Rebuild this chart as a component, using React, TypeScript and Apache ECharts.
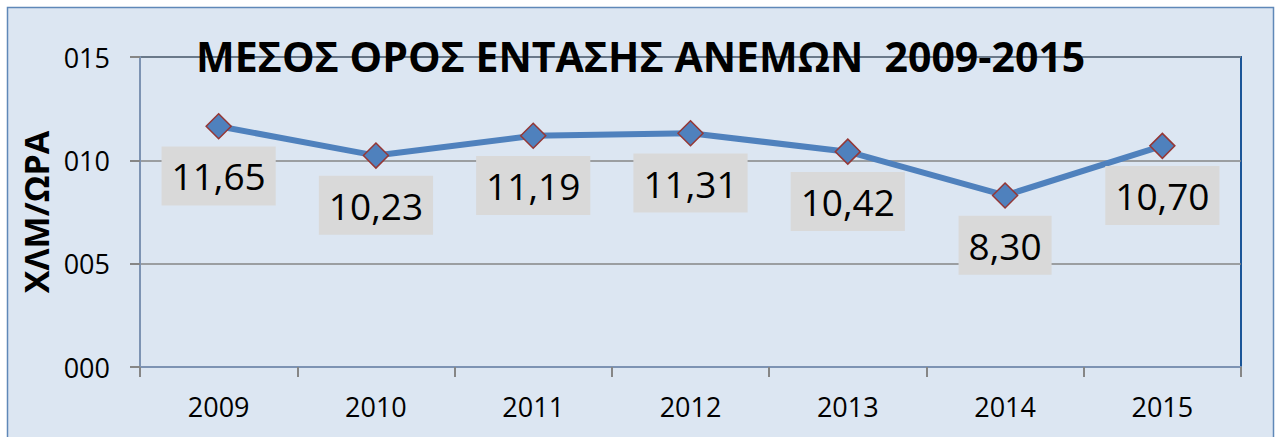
import React, { useEffect, useRef } from "react";
import * as echarts from "echarts";

const years = ["2009", "2010", "2011", "2012", "2013", "2014", "2015"];
const windSpeed = [11.65, 10.23, 11.19, 11.31, 10.42, 8.3, 10.7];
const yTicks = { min: 0, max: 15, interval: 5 };
const titleText = "ΜΕΣΟΣ ΟΡΟΣ ΕΝΤΑΣΗΣ ΑΝΕΜΩΝ  2009-2015";
const yName = "ΧΛΜ/ΩΡΑ";

const FONT = "'Open Sans', 'Noto Sans', sans-serif";

export default function App() {
  const ref = useRef<HTMLDivElement>(null);
  useEffect(() => {
    if (!ref.current) return;
    const chart = echarts.init(ref.current, null, { renderer: "svg" });
    chart.setOption({
      animation: false,
      backgroundColor: "#ffffff",
      graphic: [
        {
          type: "rect",
          z: -10,
          silent: true,
          shape: { x: 7.5, y: 7.5, width: 1266, height: 450 },
          style: { fill: "#dce6f2", stroke: "#5f88b8", lineWidth: 1.5 },
        },
      ],
      title: {
        text: titleText,
        left: 196,
        top: 35,
        padding: 0,
        textStyle: {
          fontFamily: FONT,
          fontSize: 41,
          fontWeight: "bold",
          color: "#000",
        },
        z: 10,
      },
      grid: {
        left: 140,
        top: 57,
        right: 34,
        bottom: 70,
        show: true,
        backgroundColor: "transparent",
        borderColor: "#1a5598",
        borderWidth: 2,
      },
      xAxis: {
        type: "category",
        data: years,
        boundaryGap: true,
        axisLine: { lineStyle: { color: "#7d93b3", width: 2 } },
        axisTick: { show: true, length: 10, lineStyle: { color: "#868686", width: 2 } },
        axisLabel: {
          fontFamily: FONT,
          fontSize: 27,
          color: "#000",
          margin: 26,
        },
      },
      yAxis: {
        type: "value",
        min: yTicks.min,
        max: yTicks.max,
        interval: yTicks.interval,
        name: yName,
        nameLocation: "middle",
        nameRotate: 90,
        nameGap: 86,
        nameTextStyle: {
          fontFamily: FONT,
          fontSize: 34,
          fontWeight: "bold",
          color: "#000",
        },
        axisLine: { show: true, lineStyle: { color: "#7d93b3", width: 2 } },
        axisTick: { show: true, length: 10, lineStyle: { color: "#868686", width: 2 } },
        splitLine: { show: true, lineStyle: { color: "#868686", width: 1.5 } },
        axisLabel: {
          fontFamily: FONT,
          fontSize: 27,
          color: "#000",
          margin: 30,
          formatter: (v: number) => String(v).padStart(3, "0"),
        },
      },
      series: [
        {
          type: "line",
          data: windSpeed,
          lineStyle: { color: "#4f81bd", width: 6 },
          itemStyle: { color: "#4f81bd", borderColor: "#953735", borderWidth: 1.5 },
          symbol: "diamond",
          symbolSize: 25,
          label: {
            show: true,
            position: "bottom",
            distance: 7,
            fontFamily: FONT,
            fontSize: 37,
            color: "#000",
            backgroundColor: "#d9d9d9",
            padding: [11, 10],
            formatter: (p: any) => p.value.toFixed(2).replace(".", ","),
          },
          z: 5,
        },
      ],
    });
    return () => chart.dispose();
  }, []);
  return (
    <div
      ref={ref}
      style={{ position: "fixed", left: 0, top: 0, width: 1275, height: 437 }}
    />
  );
}
